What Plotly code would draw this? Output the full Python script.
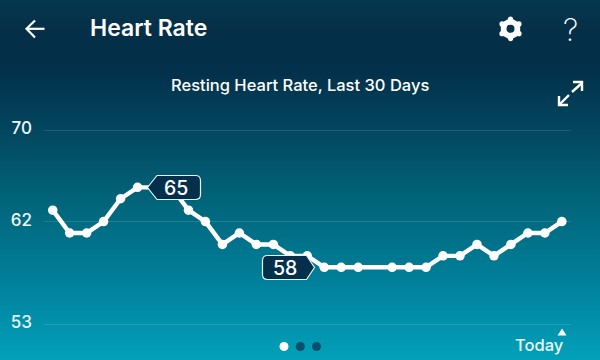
import numpy as np
import plotly.graph_objects as go

# ---- data
day_index = list(range(31))
resting_hr = [63, 61, 61, 62, 64, 65, 65, 65, 63, 62, 60, 61, 60, 60, 59, 59,
              58, 58, 58, None, 58, 58, 58, 59, 59, 60, 59, 60, 61, 61, 62]
tick_values = [53, 62, 70]
tick_labels = ["53", "62", "70"]
callout_values = ["65", "58"]
page_title = "Heart Rate"
chart_title = "Resting Heart Rate, Last 30 Days"
today_label = "Today"

W, H = 600, 360
FONT = "Inter"
DARK = "#05304b"

bg_stops = [(0, "#05384f"), (30 / 360, "#042f47"), (70 / 360, "#03304a"),
            (130 / 360, "#03465f"), (200 / 360, "#016479"),
            (280 / 360, "#017f9a"), (1, "#02a0ba")]


def px(x):
    return x / W


def py(y):
    return 1 - y / H


def path(points, close=True):
    s = "M " + " L ".join(f"{px(x):.5f},{py(y):.5f}" for x, y in points)
    return s + (" Z" if close else "")


def rounded_tag(x0, x1, y0, y1, tip_x, tip_y, side, r=5):
    """Callout outline with a pointer on one side, in pixels."""
    c = lambda x, y: f"{px(x):.5f},{py(y):.5f}"
    if side == "left":
        return (f"M {c(tip_x, tip_y)} L {c(x0, y0)} L {c(x1 - r, y0)} Q {c(x1, y0)} {c(x1, y0 + r)} "
                f"L {c(x1, y1 - r)} Q {c(x1, y1)} {c(x1 - r, y1)} L {c(x0, y1)} Z")
    return (f"M {c(tip_x, tip_y)} L {c(x1, y1)} L {c(x0 + r, y1)} Q {c(x0, y1)} {c(x0, y1 - r)} "
            f"L {c(x0, y0 + r)} Q {c(x0, y0)} {c(x0 + r, y0)} L {c(x1, y0)} Z")


fig = go.Figure()

# full-page gradient background on its own axes
rows = np.arange(0, H + 1, 2)
fig.add_trace(go.Heatmap(x=[0, W], y=rows, z=[[v, v] for v in rows / H],
                         colorscale=bg_stops, zmin=0, zmax=1, showscale=False,
                         hoverinfo="skip", xaxis="x", yaxis="y"))

fig.add_trace(go.Scatter(x=day_index, y=resting_hr, mode="lines+markers",
                         connectgaps=True,
                         line=dict(color="white", width=4.4),
                         marker=dict(color="white", size=9.5),
                         hoverinfo="skip", xaxis="x2", yaxis="y2"))

shapes = []
# callouts
for d in [rounded_tag(157, 200.5, 175.5, 199.5, 147.5, 187.5, "left"),
          rounded_tag(262.5, 306.5, 255.5, 279.5, 314.5, 267.5, "right")]:
    shapes.append(dict(type="path", xref="paper", yref="paper", path=d, fillcolor=DARK,
                       line=dict(color="#e6f2f5", width=1.2), layer="above"))

# back arrow
shapes.append(dict(type="path", xref="paper", yref="paper", layer="above",
                   path=path([(44.5, 28.8), (27, 28.8)], close=False),
                   line=dict(color="white", width=2.2)))
shapes.append(dict(type="path", xref="paper", yref="paper", layer="above",
                   path=path([(35, 20.5), (26.5, 28.8), (35, 37.5)], close=False),
                   line=dict(color="white", width=2.2)))

# gear
gear_cx, gear_cy = 510.5, 28.8
angles = np.arange(6) * np.pi / 3
hexagon = [(gear_cx + 10 * np.sin(a), gear_cy - 10 * np.cos(a)) for a in angles]
shapes.append(dict(type="path", xref="paper", yref="paper", layer="above", path=path(hexagon),
                   fillcolor="white", line=dict(color="white", width=2)))
for a in angles:
    bx, by = gear_cx + 9.8 * np.sin(a), gear_cy - 9.8 * np.cos(a)
    shapes.append(dict(type="circle", xref="paper", yref="paper", layer="above",
                       x0=px(bx - 2.6), x1=px(bx + 2.6), y0=py(by + 2.6), y1=py(by - 2.6),
                       fillcolor="white", line=dict(width=0)))
shapes.append(dict(type="circle", xref="paper", yref="paper", layer="above",
                   x0=px(gear_cx - 4), x1=px(gear_cx + 4), y0=py(gear_cy + 4), y1=py(gear_cy - 4),
                   fillcolor="#04304a", line=dict(width=0)))

# expand icon
for pts in [[(572, 92), (582, 83)], [(573, 82), (582, 82), (582, 91)],
            [(569, 95), (560, 104)], [(559, 96), (559, 105), (568, 105)]]:
    shapes.append(dict(type="path", xref="paper", yref="paper", layer="above",
                       path=path(pts, close=False), line=dict(color="white", width=2.4)))

# pager dots
for cx, col in [(284, "white"), (300.3, "#05506c"), (316.5, "#05506c")]:
    shapes.append(dict(type="circle", xref="paper", yref="paper", layer="above",
                       x0=px(cx - 4.5), x1=px(cx + 4.5), y0=py(346.5 + 4.5), y1=py(346.5 - 4.5),
                       fillcolor=col, line=dict(width=0)))

# today marker
shapes.append(dict(type="path", xref="paper", yref="paper", layer="above",
                   path=path([(557.5, 335.5), (566.5, 335.5), (562, 328.5)]),
                   fillcolor="white", line=dict(width=0)))


def label(text, x, y, size, anchor="center", weight=500, color="white"):
    return dict(text=text, xref="paper", yref="paper", x=px(x), y=py(y), showarrow=False,
                xanchor=anchor, yanchor="middle",
                font=dict(family=FONT, size=size, color=color, weight=weight))


annotations = [
    label(page_title, 88, 28.5, 23, "left", 600),
    label(chart_title, 300, 84.5, 16.5, "center", 500),
    label(callout_values[0], 176, 188, 19.5, "center", 500),
    label(callout_values[1], 285, 267.5, 19.5, "center", 500),
    label(today_label, 539, 345, 16.5, "center", 500, "#eef8fa"),
    label("?", 570, 29, 31, "center", 200),
]

fig.update_layout(
    width=W, height=H, margin=dict(l=0, r=0, t=0, b=0), autosize=False,
    paper_bgcolor="#03304a", plot_bgcolor="rgba(0,0,0,0)", showlegend=False,
    shapes=shapes, annotations=annotations,
    xaxis=dict(domain=[0, 1], range=[0, W], visible=False, fixedrange=True),
    yaxis=dict(domain=[0, 1], range=[H, 0], visible=False, fixedrange=True),
    xaxis2=dict(domain=[px(44), px(571)], range=[-0.513, 30.54], visible=False,
                anchor="y2", fixedrange=True),
    yaxis2=dict(domain=[py(335.8), py(118.8)], range=[52, 71], anchor="x2",
                tickmode="array", tickvals=tick_values, ticktext=tick_labels,
                showgrid=True, gridcolor="rgba(255,255,255,0.13)", gridwidth=1,
                zeroline=False, showline=False, ticks="", ticklabelstandoff=11,
                ticklabelshift=-2,
                tickfont=dict(family=FONT, size=17, color="#eef8fa", weight=500),
                fixedrange=True),
)

fig.write_html("out.html", config=dict(displayModeBar=False),
               post_script="document.body.style.margin='0';document.body.style.overflow='hidden';")
